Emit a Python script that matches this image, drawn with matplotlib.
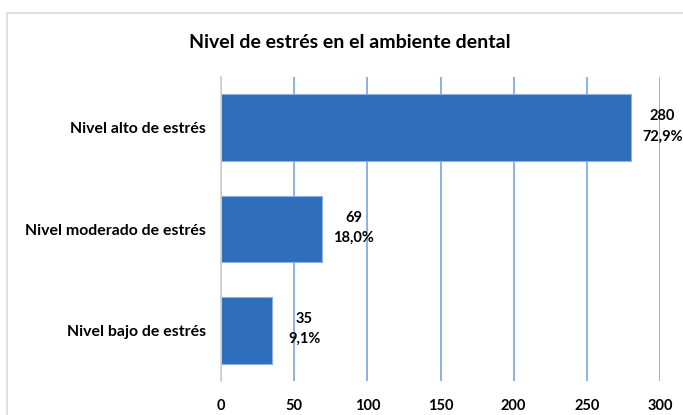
import matplotlib
matplotlib.use('Agg')
import matplotlib.pyplot as plt
from matplotlib.patches import Rectangle

# data
categorias = ['Nivel alto de estrés', 'Nivel moderado de estrés', 'Nivel bajo de estrés']
valores = [280, 69, 35]
porcentajes = ['72,9%', '18,0%', '9,1%']
ticks_x = [0, 50, 100, 150, 200, 250, 300]

plt.rcParams['font.family'] = ['Lato', 'DejaVu Sans']

fig = plt.figure(figsize=(6.83, 4.15), dpi=100)
fig.patch.set_facecolor('white')

# chart frame (cut off on the right and bottom)
fig.patches.append(Rectangle((7/683, -0.1), 1.0, 1 - 13/415 + 0.1,
                             transform=fig.transFigure, fill=False,
                             edgecolor='#d9d9d9', linewidth=1.2))

ax = fig.add_axes([221/683, 34/415, 439/683, 304/415])

pos = list(range(len(categorias)))
ax.barh(pos, valores, height=0.66, color='#2f6ebb', edgecolor='#8fb0e0',
        linewidth=0.8, zorder=3)

ax.set_xlim(0, 300)
ax.set_ylim(len(categorias) - 0.5, -0.5)
ax.set_xticks(ticks_x)
ax.set_xticklabels([str(t) for t in ticks_x], fontsize=10.5, fontweight='bold')
ax.set_yticks(pos)
ax.set_yticklabels(categorias, fontsize=11.4, fontweight='bold')
ax.tick_params(axis='x', length=0, pad=13)
ax.tick_params(axis='y', length=0, pad=11)

ax.grid(axis='x', color='#85aae2', linewidth=1.3, zorder=0)
for s in ['top', 'right', 'bottom']:
    ax.spines[s].set_visible(False)
ax.spines['left'].set_color('#d0d0d0')
ax.spines['left'].set_linewidth(1.2)
ax.spines['left'].set_zorder(4)

for i, (v, p) in enumerate(zip(valores, porcentajes)):
    ax.annotate(f'{v}\n{p}', xy=(v, i), xytext=(23, 1), textcoords='offset points',
                ha='center', va='center', fontsize=10.5, fontweight='bold',
                linespacing=1.55, zorder=5, annotation_clip=False)

fig.text(350/683, 1 - 43/415, 'Nivel de estrés en el ambiente dental',
         ha='center', va='center', fontsize=14, fontweight='bold')

fig.savefig('out.png', dpi=100)
